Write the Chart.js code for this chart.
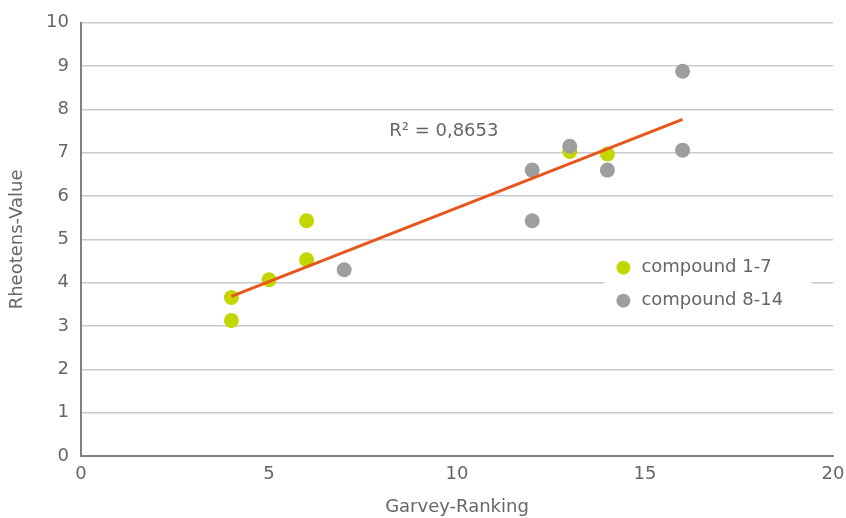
<!DOCTYPE html>
<html>
<head>
<meta charset="utf-8">
<script src="https://cdn.jsdelivr.net/npm/chart.js@4"></script>
<style>
  html, body { margin: 0; padding: 0; background: #fff; }
  #wrap { width: 846px; height: 518px; }
</style>
</head>
<body>
<div id="wrap"><canvas id="chart" width="846" height="518"></canvas></div>
<script>
// compound 1-7
var greenX = [4, 4, 5, 6, 6, 13, 14];
var greenY = [3.66, 3.13, 4.07, 4.53, 5.43, 7.03, 6.97];
// compound 8-14
var greyX = [7, 12, 12, 13, 14, 16, 16];
var greyY = [4.30, 6.60, 5.43, 7.15, 6.60, 8.88, 7.06];

var seriesLabels = ["compound 1-7", "compound 8-14"];
var xTitle = "Garvey-Ranking";
var yTitle = "Rheotens-Value";
var r2Text = "R\u00B2 = 0,8653";

var textColor = "#666666";
var fontFam = "Tahoma, 'DejaVu Sans', sans-serif";

function toPoints(xs, ys) {
  var pts = [];
  for (var i = 0; i < xs.length; i++) pts.push({ x: xs[i], y: ys[i] });
  return pts;
}

// linear trend line over all points
var allX = greenX.concat(greyX);
var allY = greenY.concat(greyY);
var n = allX.length, mx = 0, my = 0;
for (var i = 0; i < n; i++) { mx += allX[i]; my += allY[i]; }
mx /= n; my /= n;
var sxy = 0, sxx = 0;
for (var i = 0; i < n; i++) {
  sxy += (allX[i] - mx) * (allY[i] - my);
  sxx += (allX[i] - mx) * (allX[i] - mx);
}
var slope = sxy / sxx;
var icpt = my - slope * mx;
var xMin = Math.min.apply(null, allX), xMax = Math.max.apply(null, allX);
var trend = [{ x: xMin, y: icpt + slope * xMin }, { x: xMax, y: icpt + slope * xMax }];

var overlay = {
  id: "overlay",
  afterDatasetsDraw: function(chart) {
    var c = chart.ctx;
    var xs = chart.scales.x, ys = chart.scales.y;
    c.save();
    // R² label
    c.fillStyle = textColor;
    c.font = "18px " + fontFam;
    c.textAlign = "center";
    c.textBaseline = "middle";
    c.fillText(r2Text, xs.getPixelForValue(9.65), ys.getPixelForValue(7.49));
    // legend box
    var lx = xs.getPixelForValue(13.92), ly = ys.getPixelForValue(4.74);
    c.fillStyle = "#ffffff";
    c.fillRect(lx, ly, 207, 68);
    var cols = [chart.data.datasets[0].backgroundColor, chart.data.datasets[1].backgroundColor];
    for (var k = 0; k < 2; k++) {
      var cy = ly + 17 + k * 33;
      c.beginPath();
      c.fillStyle = cols[k];
      c.arc(lx + 19, cy, 7, 0, Math.PI * 2);
      c.fill();
      c.fillStyle = textColor;
      c.textAlign = "left";
      c.fillText(seriesLabels[k], lx + 37, cy);
    }
    c.restore();
  }
};

var ctx = document.getElementById("chart");
var chart = new Chart(ctx, {
  type: "scatter",
  data: {
    datasets: [
      {
        label: seriesLabels[0],
        data: toPoints(greenX, greenY),
        backgroundColor: "#C4D600",
        borderWidth: 0,
        pointRadius: 7.5,
        order: 3
      },
      {
        label: seriesLabels[1],
        data: toPoints(greyX, greyY),
        backgroundColor: "#9E9E9E",
        borderWidth: 0,
        pointRadius: 7.5,
        order: 2
      },
      {
        type: "line",
        label: "trend",
        data: trend,
        borderColor: "#E8561C",
        borderWidth: 3,
        pointRadius: 0,
        fill: false,
        order: 1
      }
    ]
  },
  options: {
    responsive: false,
    animation: false,
    layout: { padding: { left: 0, right: 13, top: 21, bottom: 0 } },
    plugins: {
      legend: { display: false },
      tooltip: { enabled: false }
    },
    scales: {
      x: {
        type: "linear",
        min: 0,
        max: 20,
        ticks: { stepSize: 5, color: textColor, font: { family: fontFam, size: 18 }, padding: 8 },
        grid: { display: false, drawTicks: false },
        border: { color: "#808080", width: 2 },
        title: { display: true, text: xTitle, color: textColor, font: { family: fontFam, size: 18 }, padding: { top: 4, bottom: 0 } },
        afterFit: function(s) { s.height = 62; s.paddingRight = 0; s.paddingLeft = 0; }
      },
      y: {
        min: 0,
        max: 10,
        ticks: { stepSize: 1, color: textColor, font: { family: fontFam, size: 18 }, padding: 12 },
        grid: { color: "#CACACA", lineWidth: 1.5, drawTicks: false },
        border: { color: "#808080", width: 2 },
        title: { display: true, text: yTitle, color: textColor, font: { family: fontFam, size: 18 }, padding: { top: 7, bottom: 10 } },
        afterFit: function(s) { s.width = 81; }
      }
    }
  },
  plugins: [overlay]
});
</script>
</body>
</html>
